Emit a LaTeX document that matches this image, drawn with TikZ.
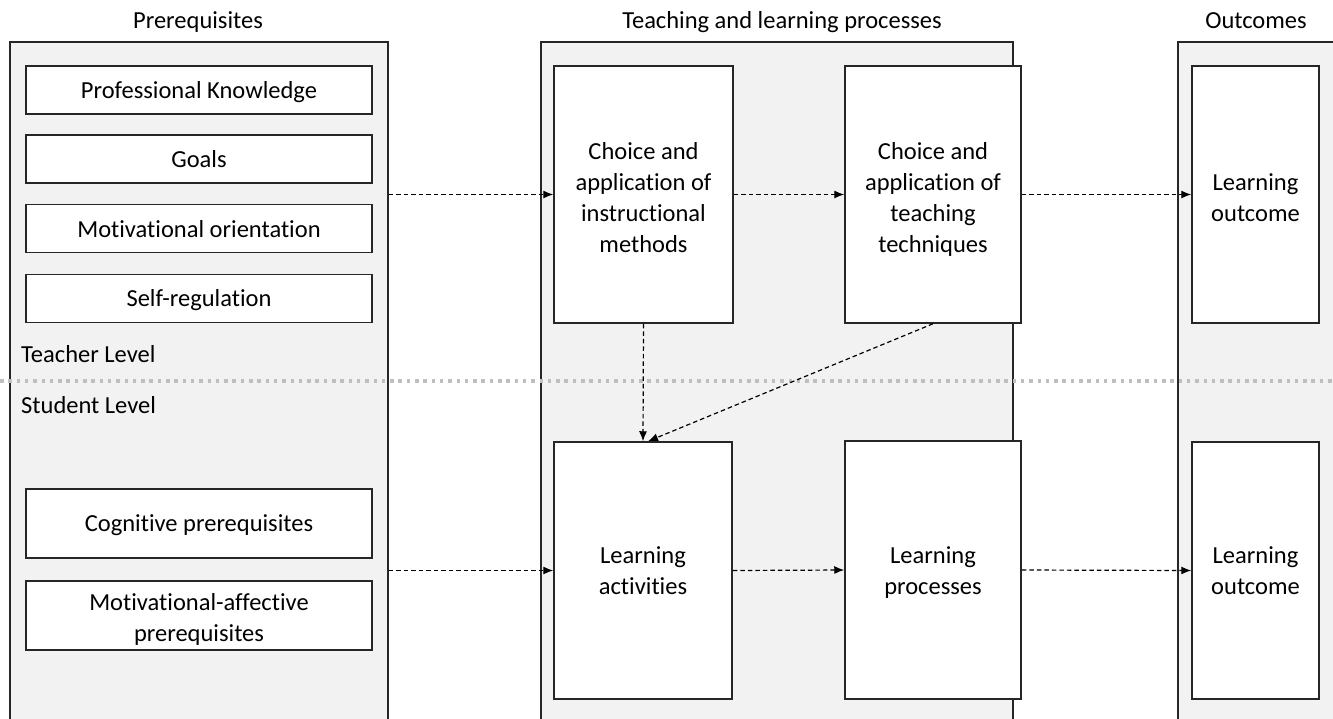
\documentclass[tikz,border=0pt]{standalone}
\usepackage{fontspec}
\setmainfont{Carlito}[Ligatures={NoCommon}]
\usetikzlibrary{arrows.meta}
\definecolor{panelgray}{HTML}{F2F2F2}
\definecolor{dotgray}{HTML}{BFBFBF}
\definecolor{edgec}{HTML}{262626}
\tikzset{
  panel/.style={draw=edgec, line width=1.5pt, fill=panelgray, anchor=north west, inner sep=0pt},
  box/.style={draw=edgec, line width=1.5pt, fill=white, inner sep=0pt},
  txt/.style={align=center, inner sep=0pt, font=\fontsize{24.5}{31}\selectfont},
  title/.style={font=\fontsize{24.5}{31}\selectfont, anchor=base},
  lvl/.style={font=\fontsize{24.5}{31}\selectfont, anchor=base west, inner sep=0pt},
  arr/.style={draw=black, line width=1.2pt, dash pattern=on 4.5pt off 3pt, -{Latex[length=10pt,width=8pt]}},
  levelline/.style={draw=dotgray, line width=3.5pt, dash pattern=on 3.5pt off 4.8pt}
}
\begin{document}
\begin{tikzpicture}[x=1pt,y=-1pt]
\useasboundingbox (0,0) rectangle (1333,718);
\begin{scope}
\clip (0,0) rectangle (1333,718);
% panels
\node[panel, minimum width=378pt, minimum height=720pt] (lp) at (9,41) {};
\node[panel, minimum width=472pt, minimum height=720pt] (mp) at (540,41) {};
\node[panel, minimum width=170pt, minimum height=720pt] (rp) at (1177,41) {};
% titles
\node[title] (t1) at (198,28) {Prerequisites};
\node[title] (t2) at (782,28) {Teaching and learning processes};
\node[title] (t3) at (1256,28) {Outcomes};
% level divider
\coordinate (d1) at (0,381);
\coordinate (d2) at (1340,381);
\draw[levelline] (d1) -- (d2);
\node[lvl] (tl) at (21,362) {Teacher Level};
\node[lvl] (sl) at (21,413) {Student Level};
% left boxes
\node[box, minimum width=346pt, minimum height=48pt] (pk) at (199,90) {};
\node[box, minimum width=346pt, minimum height=48pt] (go) at (199,159) {};
\node[box, minimum width=346pt, minimum height=48pt] (mo) at (199,228.5) {};
\node[box, minimum width=346pt, minimum height=48pt] (sr) at (199,298.5) {};
\node[box, minimum width=346pt, minimum height=69pt] (cp) at (199,523.5) {};
\node[box, minimum width=346pt, minimum height=69pt] (ma) at (199,615.5) {};
\node[txt] (pk-t) at ([yshift=-2pt]pk.center) {Professional Knowledge};
\node[txt] (go-t) at (go.center) {Goals};
\node[txt] (mo-t) at ([yshift=-1pt]mo.center) {Motivational orientation};
\node[txt] (sr-t) at ([yshift=-2pt]sr.center) {Self-regulation};
\node[txt] (cp-t) at ([yshift=-2pt]cp.center) {Cognitive prerequisites};
\node[txt] (ma-t) at ([yshift=-4pt]ma.center) {Motivational-affective\\prerequisites};
% middle boxes
\node[box, minimum width=179pt, minimum height=257pt] (ci) at (643.5,194.5) {};
\node[box, minimum width=176pt, minimum height=257pt] (ct) at (933,194.5) {};
\node[box, minimum width=178pt, minimum height=257pt] (la) at (643,570.5) {};
\node[box, minimum width=176pt, minimum height=258pt] (lpr) at (933,570) {};
\node[txt] (ci-t) at ([yshift=-3pt]ci.center) {Choice and\\application of\\instructional\\methods};
\node[txt] (ct-t) at ([yshift=-5pt]ct.center) {Choice and\\application of\\teaching\\techniques};
\node[txt] (la-t) at (la.center) {Learning\\activities};
\node[txt] (lpr-t) at ([yshift=-3pt]lpr.center) {Learning\\processes};
% outcome boxes
\node[box, minimum width=127pt, minimum height=257pt] (o1) at (1255.5,194.5) {};
\node[box, minimum width=127pt, minimum height=257pt] (o2) at (1255.5,570.5) {};
\node[txt] (o1-t) at ([yshift=-3pt]o1.center) {Learning\\outcome};
\node[txt] (o2-t) at (o2.center) {Learning\\outcome};
% arrows
\draw[arr] (ci.west -| lp.east) -- (ci.west);
\draw[arr] (ci.east) -- (ct.west);
\draw[arr] (ct.east) -- (o1.west);
\draw[arr] (la.west -| lp.east) -- (la.west);
\draw[arr] (la.east) -- (lpr.west);
\draw[arr] (lpr.east) -- (o2.west);
\draw[arr] (ci.south) -- (la.north);
\draw[arr] (ct.south) -- ([xshift=5pt]la.north);
\end{scope}
\end{tikzpicture}
\end{document}
